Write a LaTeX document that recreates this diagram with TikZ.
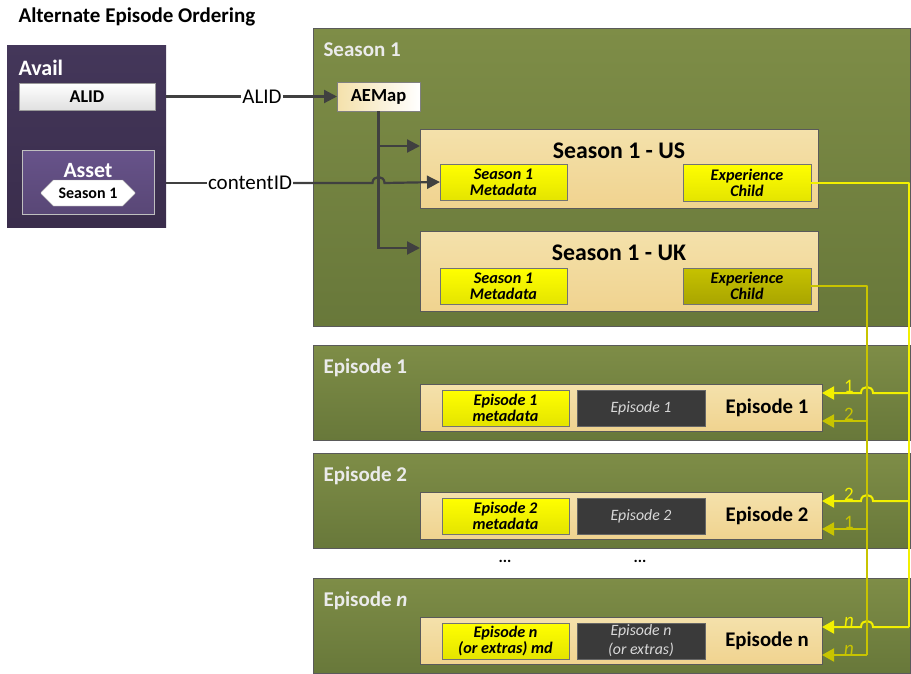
\documentclass[tikz,border=0pt]{standalone}
\usepackage{fontspec}
\setmainfont{Carlito}
\usetikzlibrary{arrows.meta,shapes.misc}

\definecolor{grptop}{HTML}{7E8D47}
\definecolor{grpbot}{HTML}{68783A}
\definecolor{grpline}{HTML}{5A5A5A}
\definecolor{beigetop}{HTML}{F4E1AB}
\definecolor{beigebot}{HTML}{F0D38F}
\definecolor{yeltop}{HTML}{FFFF00}
\definecolor{yelbot}{HTML}{E4E400}
\definecolor{olvtop}{HTML}{C6C200}
\definecolor{olvbot}{HTML}{A9A500}
\definecolor{darkbox}{HTML}{3A3A3A}
\definecolor{purptop}{HTML}{44375A}
\definecolor{purpbot}{HTML}{3A2D4C}
\definecolor{assettop}{HTML}{67538A}
\definecolor{assetbot}{HTML}{594776}
\definecolor{connline}{HTML}{404040}
\definecolor{brightln}{HTML}{F2F000}
\definecolor{oliveln}{HTML}{C8C400}

\tikzset{
  dims/.style 2 args={minimum width=#1pt, minimum height=#2pt, inner sep=0pt, outer sep=0pt},
  grpbox/.style={draw=grpline, line width=0.8pt, top color=grptop, bottom color=grpbot},
  grplbl/.style={anchor=west, text=white!92!black, font=\fontsize{21}{22}\selectfont\bfseries},
  beigebox/.style={draw=grpline, line width=0.8pt, top color=beigetop, bottom color=beigebot},
  yelbox/.style={draw=black!55, line width=0.8pt, top color=yeltop, bottom color=yelbot, align=center,
    font=\fontsize{16.2}{16}\selectfont\bfseries\itshape},
  olvbox/.style={yelbox, top color=olvtop, bottom color=olvbot},
  darkbx/.style={draw=black!60, line width=0.8pt, fill=darkbox, align=center, text=white!85!black,
    font=\fontsize{15.8}{19}\selectfont\itshape},
  boxtitle/.style={font=\fontsize{23.8}{24}\selectfont\bfseries},
  conn/.style={draw=connline, line width=2.2pt},
  tip/.style={-{Triangle[length=13pt,width=13pt]}},
  ytip/.style={-{Triangle[length=12pt,width=13pt]}},
  brightconn/.style={draw=brightln, line width=2pt},
  oliveconn/.style={draw=oliveln, line width=2pt},
  numlbl/.style={font=\fontsize{19}{19}\selectfont, inner sep=0.5pt, above}
}

\begin{document}
\begin{tikzpicture}[x=1pt,y=-1pt]
\useasboundingbox (0,0) rectangle (911,673);

% heading
\node[anchor=west, font=\fontsize{21}{22}\selectfont\bfseries] (title) at (15,17) {Alternate Episode Ordering};

% avail on the left
\node[dims={159}{182}, top color=purptop, bottom color=purpbot] (avail) at (86.5,136) {};
\node[anchor=west, text=white, font=\fontsize{22}{22}\selectfont\bfseries] (availlbl) at (15,68) {Avail};
\node[dims={136}{27}, draw=black!40, top color=white, bottom color=black!12,
  font=\fontsize{18}{18}\selectfont\bfseries] (alidbox) at (87,96.5) {ALID};
\node[dims={132}{64}, draw=white!75!black, line width=0.8pt, top color=assettop, bottom color=assetbot] (asset) at (88,182) {};
\node[text=white, font=\fontsize{21.8}{22}\selectfont\bfseries] (assetlbl) at (88,171) {Asset};
\node[chamfered rectangle, chamfered rectangle xsep=14pt, chamfered rectangle ysep=7pt, dims={94}{26}, draw=black!40, fill=white,
  font=\fontsize{16}{16}\selectfont\bfseries] (seasonhex) at (88,193) {Season 1};

% season 1
\node[dims={597}{298}, grpbox] (season) at (611.5,177) {};
\node[grplbl] (seasonlbl) at (320,50) {Season 1};
\node[dims={83}{29}, draw=black!50, left color=beigetop, right color=white,
  font=\fontsize{18.5}{18}\selectfont\bfseries] (aemap) at (378.5,96.5) {AEMap};

\node[dims={398}{79}, beigebox] (usbox) at (619,168.5) {};
\node[boxtitle] (ustitle) at (619,151) {Season 1 - US};
\node[dims={127}{36}, yelbox] (usmeta) at (503.5,182) {Season 1\\Metadata};
\node[dims={128}{37}, yelbox] (usexp) at (747,182.5) {Experience\\Child};

\node[dims={398}{80}, beigebox] (ukbox) at (619,271) {};
\node[boxtitle] (uktitle) at (619,253) {Season 1 - UK};
\node[dims={127}{36}, yelbox] (ukmeta) at (503.5,286) {Season 1\\Metadata};
\node[dims={128}{36}, olvbox] (ukexp) at (747,286) {Experience\\Child};

% episodes
\foreach \k/\yt/\lbl/\md/\dk in {1/345/Episode 1/Episode 1\\metadata/Episode 1,
    2/453/Episode 2/Episode 2\\metadata/Episode 2,
    n/578/Episode \textit{n}/Episode n\\(or extras) md/Episode n\\(or extras)}{
  \node[dims={597}{95}, grpbox] (ep\k) at (611.5,\yt+47.5) {};
  \node[grplbl] (ep\k lbl) at (320,\yt+23) {\lbl};
  \node[dims={402}{47}, beigebox] (epin\k) at (621,\yt+63) {};
  \node[dims={127}{36}, yelbox] (epmeta\k) at (505.5,\yt+63) {\md};
  \node[dims={128}{36}, darkbx] (epvid\k) at (641,\yt+63) {\dk};
  \node[font=\fontsize{20.8}{20}\selectfont\bfseries] (eptitle\k) at (767,\yt+63) {Episode \k};
}
\node[font=\fontsize{16}{16}\selectfont\bfseries] (dotsa) at (505,561) {...};
\node[font=\fontsize{16}{16}\selectfont\bfseries] (dotsb) at (640,561) {...};

% ids from the avail
\node[fill=white, inner sep=1pt, font=\fontsize{21}{20}\selectfont] (alidlbl) at (262,96.5) {ALID};
\node[fill=white, inner sep=1pt, font=\fontsize{21}{20}\selectfont] (cidlbl) at (250,183) {contentID};
\draw[conn] (avail.east |- alidbox) -- (alidlbl.west);
\draw[conn,tip] (alidlbl.east) -- (aemap.west);
\draw[conn] (avail.east |- cidlbl) -- (cidlbl.west);

% aemap to the two seasons
\coordinate (usin) at ([yshift=-17pt]usbox.north west);
\coordinate (ukin) at ([yshift=-17pt]ukbox.north west);
\draw[conn,tip] (aemap.south) |- (ukin);
\draw[conn,tip] (aemap.south |- usin) -- (usin);
\draw[conn,tip] (cidlbl.east) -- ([xshift=-6pt]aemap.south |- cidlbl)
  .. controls +(0,-8) and +(0,-8) .. ([xshift=6pt]aemap.south |- cidlbl) -- (usmeta.west);

% experience children to the episodes
\coordinate (bbus) at (909,0);
\coordinate (obus) at (867,0);
\foreach \k/\yt/\nb/\no in {1/384/1/2, 2/492/2/1, n/618/\textit{n}/\textit{n}}{
  \coordinate (ba\k) at (909,\yt+9);
  \coordinate (oa\k) at (867,\yt+37);
  \draw[brightconn,ytip] (ba\k) -- ([xshift=6pt]obus |- ba\k)
    .. controls +(0,-8) and +(0,-8) .. ([xshift=-6pt]obus |- ba\k) -- (epin\k.east |- ba\k);
  \node[numlbl, text=brightln] (nb\k) at ([xshift=-18pt]obus |- ba\k) {\nb};
  \draw[oliveconn,ytip] (oa\k) -- (epin\k.east |- oa\k);
  \node[numlbl, text=oliveln] (no\k) at ([xshift=-18pt]obus |- oa\k) {\no};
}
\draw[brightconn, line join=round] (usexp.east) -| (ban);
\draw[oliveconn, line join=round] (ukexp.east) -| (oan);
\end{tikzpicture}
\end{document}
